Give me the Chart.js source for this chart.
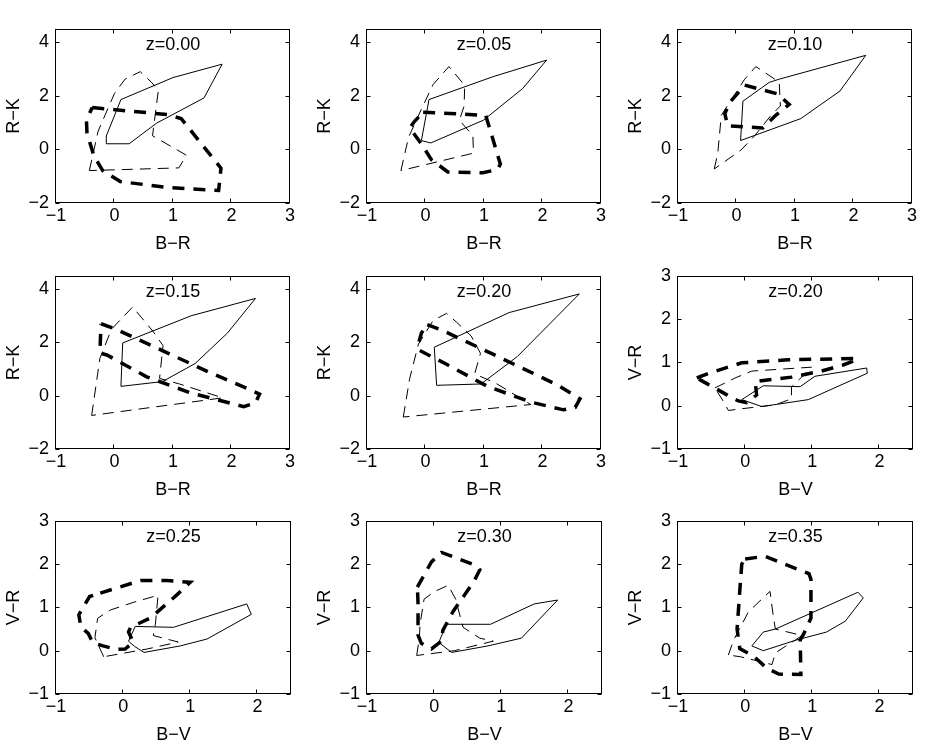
<!DOCTYPE html>
<html><head><meta charset="utf-8">
<script src="https://cdn.jsdelivr.net/npm/chart.js@4/dist/chart.umd.min.js"></script>
<style>
html,body{margin:0;padding:0;background:#fff;}
body{width:926px;height:746px;position:relative;overflow:hidden;}
.p{position:absolute;}
canvas{display:block;}
</style></head><body>
<script>
// ---- tick labels / axis ranges ----
const xTicksBR = [-1, 0, 1, 2, 3];
const yTicksRK = [-2, 0, 2, 4];
const xTicksBV = [-1, 0, 1, 2];
const yTicksVR = [-1, 0, 1, 2, 3];
const rangeBR = [-1, 3];
const rangeRK = [-2, 4.5];
const rangeBV = [-1, 2.5];
const rangeVR = [-1, 3];

// ---- panel titles and axis titles ----
const panelTitles = ['z=0.00', 'z=0.05', 'z=0.10', 'z=0.15', 'z=0.20', 'z=0.20', 'z=0.25', 'z=0.30', 'z=0.35'];
const panelKinds  = ['BR', 'BR', 'BR', 'BR', 'BR', 'BV', 'BV', 'BV', 'BV'];

// ---- polygons: [x, y] vertices (thin solid, thin dashed, thick dashed) ----
const z000_solid = [[0.11,1.86],[1.0,2.68],[1.84,3.18],[1.53,1.92],[0.72,0.98],[0.25,0.21],[-0.14,0.21],[-0.14,0.5]];
const z000_thin  = [[-0.43,-0.79],[-0.28,0.68],[0.0,2.09],[0.18,2.62],[0.44,2.9],[0.63,2.51],[0.75,2.21],[0.65,0.51],[1.23,-0.22],[1.10,-0.69]];
const z000_thick = [[-0.38,1.56],[0.9,1.3],[1.14,1.15],[1.82,-0.7],[1.78,-1.53],[0.9,-1.42],[0.1,-1.2],[-0.2,-0.8],[-0.35,-0.25],[-0.47,0.6],[-0.48,1.1]];

const z005_solid = [[0.06,1.86],[1.15,2.71],[2.07,3.33],[1.66,2.27],[0.99,1.09],[0.09,0.24],[-0.07,0.33]];
const z005_thin  = [[-0.42,-0.79],[-0.29,0.45],[-0.07,1.5],[0.13,2.42],[0.40,3.09],[0.67,2.39],[0.66,1.62],[0.58,1.09],[0.81,0.51],[0.82,-0.14]];
const z005_thick = [[-0.04,1.39],[1.03,1.27],[1.28,-0.55],[1.23,-0.75],[0.98,-0.87],[0.38,-0.84],[0.1,-0.38],[-0.07,0.2],[-0.27,0.8],[-0.19,1.04]];

const z010_solid = [[0.11,1.8],[0.56,2.5],[0.73,2.62],[2.21,3.51],[1.77,2.18],[1.10,1.15],[0.07,0.33]];
const z010_thin  = [[-0.38,-0.73],[-0.32,-0.14],[-0.26,1.27],[0.14,2.62],[0.33,3.09],[0.49,2.86],[0.73,2.51],[0.75,1.62],[0.59,1.27],[0.31,0.51],[0.08,-0.02]];
const z010_thick = [[0.14,2.4],[0.70,2.07],[0.9,1.68],[0.67,1.27],[0.45,0.8],[-0.15,0.88],[-0.2,1.33],[-0.12,1.74]];

const z015_solid = [[0.14,1.98],[1.31,3.0],[2.41,3.65],[1.93,2.35],[1.38,1.21],[0.82,0.53],[0.11,0.35]];
const z015_thin  = [[-0.39,-0.74],[-0.25,1.4],[-0.05,2.5],[0.31,3.33],[0.66,2.41],[0.83,1.88],[0.77,0.65],[1.11,0.44],[1.85,-0.08]];
const z015_thick = [[-0.23,2.7],[0.03,2.49],[0.92,1.59],[1.62,0.88],[2.33,0.21],[2.48,0.06],[2.41,-0.27],[2.21,-0.41],[1.28,0.12],[0.55,0.71],[-0.13,1.53],[-0.25,1.6]];

const z020_solid = [[0.15,1.82],[1.43,3.12],[2.63,3.82],[1.57,1.47],[0.95,0.44],[0.19,0.39]];
const z020_thin  = [[-0.38,-0.8],[-0.27,0.65],[-0.12,1.94],[0.13,2.82],[0.36,3.09],[0.53,2.76],[0.78,2.24],[0.94,1.59],[0.84,0.82],[1.2,0.47],[1.80,-0.33]];
const z020_thick = [[0.03,2.67],[0.27,2.47],[1.18,1.53],[2.25,0.41],[2.64,-0.12],[2.56,-0.44],[2.36,-0.53],[1.80,-0.24],[1.06,0.35],[0.36,1.18],[0.05,1.53],[-0.1,1.7],[-0.12,1.94],[-0.07,2.35]];

const z020v_solid = [[0.27,0.46],[0.82,0.44],[1.04,0.68],[1.81,0.87],[1.82,0.75],[0.94,0.14],[0.25,-0.02],[-0.05,0.14]];
const z020v_thin  = [[-0.45,0.41],[-0.15,0.64],[0.10,0.8],[0.99,0.89],[0.69,0.43],[0.69,0.16],[0.45,0.02],[-0.05,-0.07],[-0.25,-0.11],[-0.32,0.09]];
const z020v_thick = [[-0.72,0.64],[-0.54,0.75],[-0.05,0.99],[0.64,1.06],[1.66,1.09],[1.67,1.07],[1.46,0.94],[1.14,0.8],[0.69,0.66],[0.30,0.59],[0.15,0.56],[0.17,0.25],[0.02,0.07],[-0.10,0.11],[-0.27,0.25],[-0.57,0.51]];

const z025_solid = [[0.18,0.56],[0.75,0.54],[1.84,1.08],[1.91,0.84],[1.25,0.27],[0.85,0.11],[0.31,-0.04],[0.17,0.1],[0.08,0.22]];
const z025_thin  = [[-0.29,-0.14],[-0.42,0.3],[-0.38,0.75],[-0.19,0.94],[0.16,1.12],[0.52,1.28],[0.48,0.61],[0.45,0.35],[0.82,0.2],[0.36,0.04]];
const z025_thick = [[-0.34,1.33],[0.26,1.62],[0.65,1.62],[1.0,1.58],[0.8,1.29],[0.41,0.76],[0.11,0.54],[0.08,0.43],[0.15,0.2],[0.03,0.04],[-0.1,0.03],[-0.3,0.11],[-0.45,0.18],[-0.52,0.4],[-0.63,0.55],[-0.66,0.83],[-0.5,1.25]];

const z030_solid = [[0.18,0.61],[0.84,0.61],[1.49,1.08],[1.84,1.17],[1.30,0.29],[0.80,0.11],[0.26,-0.04],[0.07,0.19]];
const z030_thin  = [[-0.26,-0.11],[-0.22,0.3],[-0.21,0.61],[-0.15,1.19],[0.01,1.37],[0.21,1.51],[0.32,1.19],[0.43,0.54],[0.68,0.29],[0.88,0.22],[0.3,0.0]];
const z030_thick = [[-0.25,1.47],[-0.04,2.05],[0.11,2.27],[0.60,1.98],[0.68,1.87],[0.60,1.62],[0.28,0.90],[0.13,0.47],[0.11,0.22],[-0.04,0.04],[-0.19,0.17],[-0.24,0.36],[-0.24,1.12]];

const z035_solid = [[0.27,0.43],[0.45,0.5],[1.68,1.35],[1.76,1.22],[1.49,0.68],[1.21,0.43],[0.77,0.25],[0.27,0.0],[0.10,0.11]];
const z035_thin  = [[-0.25,-0.1],[-0.17,0.25],[0.05,0.9],[0.37,1.37],[0.42,0.79],[0.45,0.5],[0.85,0.35],[0.45,-0.05],[0.4,-0.32],[0.22,-0.25],[-0.07,-0.14]];
const z035_thick = [[0.0,2.12],[0.3,2.18],[0.7,1.93],[0.95,1.78],[0.98,1.65],[0.98,0.75],[0.87,0.38],[0.82,0.25],[0.83,-0.55],[0.5,-0.54],[0.32,-0.4],[0.12,-0.12],[-0.08,0.05],[-0.12,0.5],[-0.07,1.6],[-0.05,2.0]];

const panelPolys = [
  [z000_solid, z000_thin, z000_thick],
  [z005_solid, z005_thin, z005_thick],
  [z010_solid, z010_thin, z010_thick],
  [z015_solid, z015_thin, z015_thick],
  [z020_solid, z020_thin, z020_thick],
  [z020v_solid, z020v_thin, z020v_thick],
  [z025_solid, z025_thin, z025_thick],
  [z030_solid, z030_thin, z030_thick],
  [z035_solid, z035_thin, z035_thick]
];

// ---- layout (pixels) ----
const colLeft = [56, 367, 678];
const rowTop = [17, 264, 509];
const boxW = 235;
const boxH = [186, 185, 185];
const FONT = '"Liberation Sans", Arial, Helvetica, sans-serif';
const FS = 18;

const lineStyles = [
  {borderWidth: 1, borderDash: []},
  {borderWidth: 1, borderDash: [11, 7]},
  {borderWidth: 3.5, borderDash: [12, 9]}
];

const minus = v => String(v).replace('-', '\u2212');

const framePlugin = {
  id: 'frame',
  afterDraw(chart) {
    const {ctx, chartArea: a, scales} = chart;
    ctx.save();
    ctx.strokeStyle = '#000';
    ctx.lineWidth = 1;
    ctx.setLineDash([]);
    const l = Math.round(a.left) - 0.5, r = Math.round(a.right) - 0.5;
    const t = Math.round(a.top) + 0.5, b = Math.round(a.bottom) - 0.5;
    ctx.strokeRect(l, t, r - l, b - t);
    const tl = 4;
    ctx.beginPath();
    scales.x.ticks.forEach(tk => {
      const px = Math.round(scales.x.getPixelForValue(tk.value)) - 0.5;
      ctx.moveTo(px, b); ctx.lineTo(px, b - tl);
      ctx.moveTo(px, t); ctx.lineTo(px, t + tl);
    });
    scales.y.ticks.forEach(tk => {
      const py = Math.round(scales.y.getPixelForValue(tk.value)) + 0.5;
      ctx.moveTo(l, py); ctx.lineTo(l + tl, py);
      ctx.moveTo(r, py); ctx.lineTo(r - tl, py);
    });
    ctx.stroke();
    const title = chart.options.plugins.frame.title;
    ctx.fillStyle = '#000';
    ctx.font = FS + 'px ' + FONT;
    ctx.textAlign = 'center';
    ctx.textBaseline = 'middle';
    ctx.fillText(title, (a.left + a.right) / 2, a.top + 16.5);
    ctx.restore();
  }
};

function makeChart(i) {
  const r = Math.floor(i / 3), c = i % 3;
  const L = colLeft[c], T = rowTop[r], W = boxW, H = boxH[r];
  const padL = 56, padT = 6, padR = 6, padB = 52;
  const div = document.createElement('div');
  div.className = 'p';
  div.style.left = (L - padL) + 'px';
  div.style.top = (T - padT) + 'px';
  const cw = W + padL + padR, ch = H + padT + padB;
  div.style.width = cw + 'px';
  div.style.height = ch + 'px';
  const cv = document.createElement('canvas');
  cv.width = cw; cv.height = ch;
  cv.style.width = cw + 'px'; cv.style.height = ch + 'px';
  div.appendChild(cv);
  document.body.appendChild(div);

  const isBR = panelKinds[i] === 'BR';
  const xr = isBR ? rangeBR : rangeBV;
  const yr = isBR ? rangeRK : rangeVR;
  const xt = isBR ? xTicksBR : xTicksBV;
  const yt = isBR ? yTicksRK : yTicksVR;
  const xlab = isBR ? 'B\u2212R' : 'B\u2212V';
  const ylab = isBR ? 'R\u2212K' : 'V\u2212R';

  const datasets = panelPolys[i].map((poly, k) => ({
    data: poly.concat([poly[0]]).map(p => ({x: p[0], y: p[1]})),
    showLine: true,
    borderColor: '#000',
    backgroundColor: '#000',
    borderWidth: lineStyles[k].borderWidth,
    borderDash: lineStyles[k].borderDash,
    borderCapStyle: 'butt',
    borderJoinStyle: 'miter',
    pointRadius: 0,
    pointHoverRadius: 0,
    tension: 0,
    fill: false
  }));

  const font = {family: FONT, size: FS};
  new Chart(cv, {
    type: 'scatter',
    data: {datasets},
    plugins: [framePlugin],
    options: {
      responsive: false,
      animation: false,
      devicePixelRatio: 1,
      events: [],
      layout: {padding: {top: padT, right: padR, left: 0, bottom: 0}, autoPadding: false},
      plugins: {legend: {display: false}, tooltip: {enabled: false}, frame: {title: panelTitles[i]}},
      scales: {
        x: {
          type: 'linear', min: xr[0], max: xr[1],
          afterBuildTicks: s => { s.ticks = xt.map(v => ({value: v})); },
          afterFit: s => { s.height = padB; },
          grid: {display: false, drawTicks: false},
          border: {display: false},
          ticks: {color: '#000', font, padding: 2, maxRotation: 0, autoSkip: false, callback: v => minus(v)},
          title: {display: true, text: xlab, color: '#000', font, padding: {top: 0, bottom: 0}}
        },
        y: {
          type: 'linear', min: yr[0], max: yr[1],
          afterBuildTicks: s => { s.ticks = yt.map(v => ({value: v})); },
          afterFit: s => { s.width = padL; },
          grid: {display: false, drawTicks: false},
          border: {display: false},
          ticks: {color: '#000', font, padding: 7, autoSkip: false, callback: v => minus(v)},
          title: {display: true, text: ylab, color: '#000', font, padding: {top: 3, bottom: 0}}
        }
      }
    }
  });
}

for (let i = 0; i < 9; i++) makeChart(i);
</script>
</body></html>
